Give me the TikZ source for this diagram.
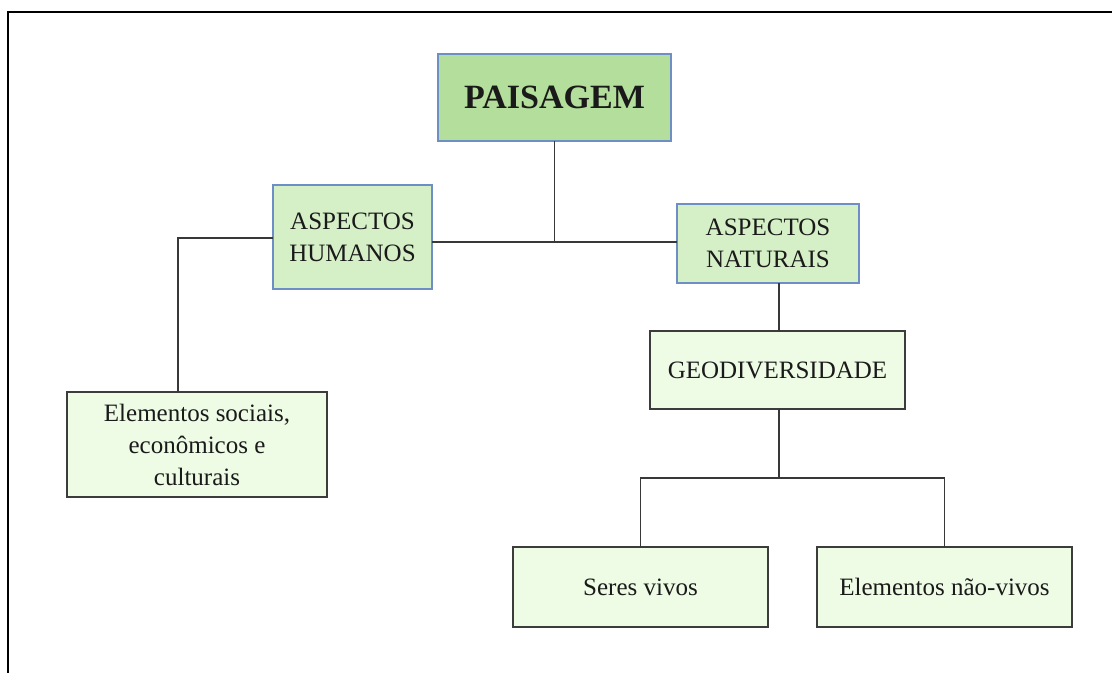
\documentclass[tikz,border=0pt]{standalone}
\usepackage{fontspec}
\setmainfont{Liberation Serif}
\definecolor{topfill}{HTML}{B3DE9B}
\definecolor{midfill}{HTML}{D5EFC7}
\definecolor{lowfill}{HTML}{EEFBE5}
\definecolor{blueedge}{HTML}{6E8FC6}
\definecolor{grayedge}{HTML}{3C3C3C}
\definecolor{conn}{HTML}{383838}
\definecolor{txt}{HTML}{1A1A1A}
\begin{document}
\begin{tikzpicture}[x={(1pt,0)},y={(0,-1pt)},
  boxbase/.style={rectangle,inner sep=0pt,outer sep=0pt,align=center,text=txt,
    font=\fontsize{25}{32}\selectfont},
  topbox/.style={boxbase,fill=topfill,draw=blueedge,line width=1.3pt,
    font=\fontsize{34}{40}\selectfont\bfseries},
  midbox/.style={boxbase,fill=midfill,draw=blueedge,line width=1.3pt},
  lowbox/.style={boxbase,fill=lowfill,draw=grayedge,line width=1.4pt},
  link/.style={draw=conn,line width=1.4pt}]
\useasboundingbox (0,0) rectangle (1112,673);
% frame
\draw[line width=1.5pt,black] (1112,12) -- (8,12) -- (8,673);
% nodes
\node[topbox,minimum width=233pt,minimum height=87pt] (pais) at (554.5,97.5) {PAISAGEM};
\node[midbox,minimum width=159pt,minimum height=104pt] (hum) at (352.5,237) {ASPECTOS\\HUMANOS};
\node[midbox,minimum width=182pt,minimum height=79pt] (nat) at (768,243.5) {ASPECTOS\\NATURAIS};
\node[lowbox,minimum width=255pt,minimum height=78pt] (geo) at (777.5,370) {GEODIVERSIDADE};
\node[lowbox,minimum width=260pt,minimum height=105pt] (elem) at (197,444.5) {Elementos sociais,\\econômicos e\\culturais};
\node[lowbox,minimum width=255pt,minimum height=80pt] (seres) at (640.5,587) {Seres vivos};
\node[lowbox,minimum width=255pt,minimum height=80pt] (nao) at (944.5,587) {Elementos não-vivos};
% helper coordinates
\coordinate (j) at (554.5,242);
\coordinate (k) at (178,238);
\coordinate (m) at (779,0);
\coordinate (g) at (779,478);
% connectors
\draw[link] (pais.south) -- (j);
\draw[link] (hum.east|-j) -- (nat.west|-j);
\draw[link] (hum.west|-k) -- (k) -- (k|-elem.north);
\draw[link] (m|-nat.south) -- (m|-geo.north);
\draw[link] (m|-geo.south) -- (g);
\draw[link] (seres.north) -- (seres.north|-g) -- (nao.north|-g) -- (nao.north);
\end{tikzpicture}
\end{document}
